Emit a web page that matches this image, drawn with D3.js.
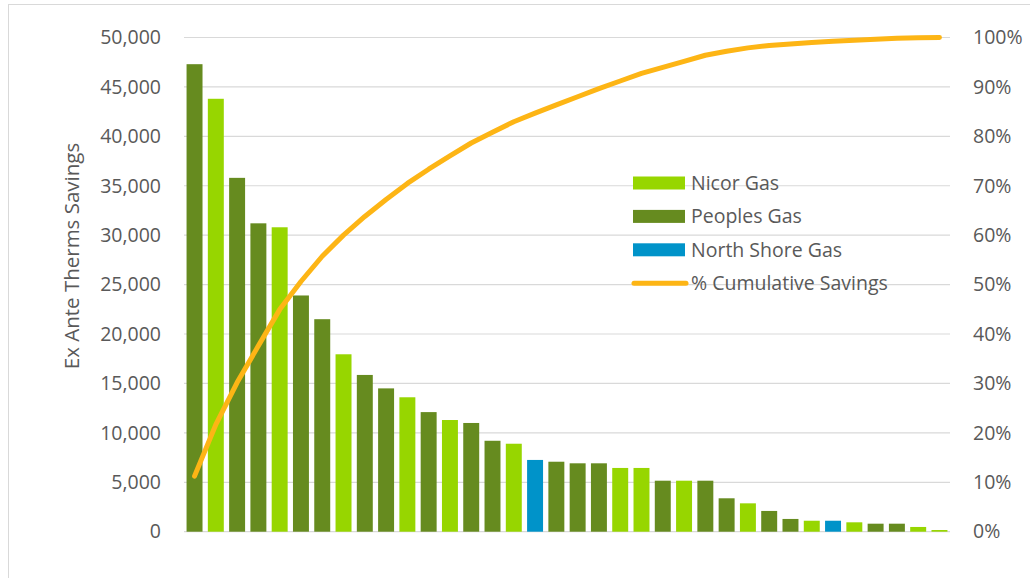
<!DOCTYPE html>
<html>
<head>
<meta charset="utf-8">
<script src="https://cdn.jsdelivr.net/npm/d3@7"></script>
<style>
  body { margin: 0; background: #fff; }
  text { font-family: "Open Sans", Lato, sans-serif; fill: #595959; }
</style>
</head>
<body>
<svg width="1030" height="578"></svg>
<script>
// bar values (ex ante therms), in sort order
var savings = [47300, 43800, 35800, 31200, 30800, 23900, 21500, 17950, 15860, 14500,
  13600, 12100, 11300, 11000, 9200, 8900, 7260, 7080, 6920, 6920,
  6450, 6450, 5160, 5160, 5160, 3380, 2870, 2100, 1290, 1110,
  1110, 950, 810, 810, 480, 170];
var utility = ["P", "N", "P", "P", "N", "P", "P", "N", "P", "P",
  "N", "P", "N", "P", "P", "N", "S", "P", "P", "P",
  "N", "N", "P", "N", "P", "P", "N", "P", "P", "N",
  "S", "N", "P", "P", "N", "N"];
var leftTicks = [0, 5000, 10000, 15000, 20000, 25000, 30000, 35000, 40000, 45000, 50000];
var rightTicks = [0, 0.1, 0.2, 0.3, 0.4, 0.5, 0.6, 0.7, 0.8, 0.9, 1];
var legendNames = ["Nicor Gas", "Peoples Gas", "North Shore Gas", "% Cumulative Savings"];

var colors = { N: "#97d600", P: "#668b1f", S: "#0093c9" };
var lineColor = "#fdb515";

var svg = d3.select("svg"),
    margin = {top: 37.5, right: 80, bottom: 46.3, left: 184},
    width = 950 - margin.left,
    height = 531.7 - margin.top;

// chart border
svg.append("rect")
    .attr("x", 8.5).attr("y", 4.5)
    .attr("width", 1030).attr("height", 600)
    .attr("fill", "none").attr("stroke", "#d9d9d9");

var total = d3.sum(savings);
var cum = d3.cumsum(savings).map(function(v) { return v / total; });

var x = d3.scaleBand().domain(d3.range(savings.length)).range([0, width]).paddingInner(0.25).paddingOuter(0.12),
    y = d3.scaleLinear().domain([0, 50000]).range([height, 0]),
    y2 = d3.scaleLinear().domain([0, 1]).range([height, 0]);

var g = svg.append("g")
    .attr("transform", "translate(" + margin.left + "," + margin.top + ")");

g.selectAll(".grid")
  .data(leftTicks)
  .enter().append("line")
    .attr("class", "grid")
    .attr("x1", 0).attr("x2", width)
    .attr("y1", function(d) { return y(d); })
    .attr("y2", function(d) { return y(d); })
    .attr("stroke", "#d9d9d9")
    .attr("stroke-width", 1.2);

var fmt = d3.format(",");
g.append("g")
    .call(d3.axisLeft(y).tickValues(leftTicks).tickFormat(fmt).tickSize(0).tickPadding(23))
    .call(function(a) { a.select(".domain").remove(); })
    .selectAll("text")
      .style("font-size", "19.5px")
      .style("font-family", "'Open Sans', Lato, sans-serif")
      .attr("fill", "#595959");

g.append("g")
    .attr("transform", "translate(" + width + ",0)")
    .call(d3.axisRight(y2).tickValues(rightTicks).tickFormat(d3.format(".0%")).tickSize(0).tickPadding(23))
    .call(function(a) { a.select(".domain").remove(); })
    .selectAll("text")
      .style("font-size", "19.5px")
      .style("font-family", "'Open Sans', Lato, sans-serif")
      .attr("fill", "#595959");

g.selectAll(".bar")
  .data(savings)
  .enter().append("rect")
    .attr("class", "bar")
    .attr("x", function(d, i) { return x(i); })
    .attr("y", function(d) { return y(d); })
    .attr("width", x.bandwidth())
    .attr("height", function(d) { return height - y(d); })
    .attr("fill", function(d, i) { return colors[utility[i]]; });

var line = d3.line()
    .x(function(d, i) { return x(i) + x.bandwidth() / 2; })
    .y(function(d) { return y2(d); });

g.append("path")
    .datum(cum)
    .attr("d", line)
    .attr("fill", "none")
    .attr("stroke", lineColor)
    .attr("stroke-width", 5)
    .attr("stroke-linecap", "round")
    .attr("stroke-linejoin", "round");

svg.append("text")
    .attr("transform", "translate(79,256) rotate(-90)")
    .attr("text-anchor", "middle")
    .style("font-size", "20.5px")
    .text("Ex Ante Therms Savings");

// legend
var lg = svg.append("g").attr("transform", "translate(633,183)");
var swatch = [colors.N, colors.P, colors.S];
legendNames.forEach(function(name, i) {
  var row = lg.append("g").attr("transform", "translate(0," + (i * 33.4) + ")");
  if (i < 3) {
    row.append("rect").attr("x", 0).attr("y", -6.5).attr("width", 52).attr("height", 13).attr("fill", swatch[i]);
  } else {
    row.append("line").attr("x1", 1).attr("x2", 53).attr("y1", 0).attr("y2", 0)
      .attr("stroke", lineColor).attr("stroke-width", 5).attr("stroke-linecap", "round");
  }
  row.append("text").attr("x", 58).attr("y", 0).attr("dy", "0.35em")
    .style("font-size", "19.5px").text(name);
});
</script>
</body>
</html>
